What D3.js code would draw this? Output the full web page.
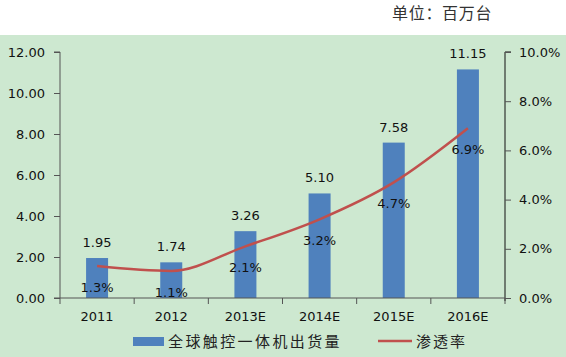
<!DOCTYPE html>
<html><head><meta charset="utf-8">
<script src="https://cdn.jsdelivr.net/npm/d3@7"></script>
<style>body{margin:0;background:#fff}svg{display:block}</style>
</head><body>
<script>
const categories = ["2011","2012","2013E","2014E","2015E","2016E"];
const shipments = [1.95,1.74,3.26,5.10,7.58,11.15];
const penetration = [0.013,0.011,0.021,0.032,0.047,0.069];
const leftTicks = [0,2,4,6,8,10,12];
const rightTicks = [0,0.02,0.04,0.06,0.08,0.10];
const seriesNames = ["全球触控一体机出货量","渗透率"];
const unitLabel = "单位：百万台";

const W=566,H=357;
const svg=d3.select("body").append("svg").attr("width",W).attr("height",H);
svg.append("rect").attr("x",0).attr("y",35).attr("width",W).attr("height",H-35).attr("fill","#CDE8D0");
svg.append("text").attr("x",392).attr("y",19)
  .attr("font-family","Noto Sans CJK SC").attr("font-size",16).attr("letter-spacing",0.7).attr("fill","#333").text(unitLabel);

const L=60,R=505,T=52,B=298;
const xb=d3.scaleBand().domain(categories).range([L,R]);
const y=d3.scaleLinear().domain([0,12]).range([B,T]);
const y2=d3.scaleLinear().domain([0,0.10]).range([B,T]);
const font="DejaVu Sans";
const cx=i=>xb(categories[i])+xb.bandwidth()/2;

// bars
svg.selectAll(".bar").data(shipments).enter().append("rect")
  .attr("x",(d,i)=>cx(i)-11).attr("width",22)
  .attr("y",d=>y(d)).attr("height",d=>B-y(d)).attr("fill","#4F81BD");
svg.selectAll(".bl").data(shipments).enter().append("text")
  .attr("x",(d,i)=>cx(i)).attr("y",d=>y(d)-11)
  .attr("text-anchor","middle").attr("font-family",font).attr("font-size",13).attr("fill","#111")
  .text(d=>d.toFixed(2));

// line
const line=d3.line().x((d,i)=>cx(i)).y(d=>y2(d)).curve(d3.curveMonotoneX);
svg.append("path").datum(penetration).attr("d",line).attr("fill","none").attr("stroke","#C0504D").attr("stroke-width",2.5);
svg.selectAll(".pl").data(penetration).enter().append("text")
  .attr("x",(d,i)=>cx(i)).attr("y",d=>y2(d)+26)
  .attr("text-anchor","middle").attr("font-family",font).attr("font-size",13).attr("fill","#111")
  .text(d=>(d*100).toFixed(1)+"%");

// axes
const gl=svg.append("g").attr("transform",`translate(${L},0)`)
  .call(d3.axisLeft(y).tickValues(leftTicks).tickSize(6).tickPadding(9).tickFormat(d=>d.toFixed(2)));
const gr=svg.append("g").attr("transform",`translate(${R},0)`)
  .call(d3.axisRight(y2).tickValues(rightTicks).tickSize(6).tickPadding(8).tickFormat(d=>(d*100).toFixed(1)+"%"));
const gx=svg.append("g").attr("transform",`translate(0,${B})`)
  .call(d3.axisBottom(xb).tickSize(0).tickPadding(14));
gx.selectAll(".xt").data(d3.range(categories.length+1)).enter().append("line")
  .attr("x1",i=>L+i*xb.step()).attr("x2",i=>L+i*xb.step()).attr("y1",0).attr("y2",6).attr("stroke","#555");
[gl,gr,gx].forEach(g=>{
  g.selectAll("path").attr("stroke","#555");
  g.selectAll(".tick line").attr("stroke","#555");
  g.selectAll("text").attr("font-family",font).attr("font-size",13).attr("fill","#111");
});
gl.select("path").attr("d",`M-6,${T}H0V${B}H-6`);
gr.select("path").attr("d",`M6,${T}H0V${B+3}`).attr("stroke","#111");
gx.select("path").attr("d",`M${L},0H${R}`);

// legend
const lg=svg.append("g");
lg.append("rect").attr("x",133).attr("y",337).attr("width",31).attr("height",9).attr("fill","#4F81BD");
lg.append("text").attr("x",168).attr("y",347).attr("font-family","Noto Sans CJK SC").attr("font-size",15).attr("letter-spacing",2.4).attr("fill","#222").text(seriesNames[0]);
lg.append("line").attr("x1",378).attr("x2",412).attr("y1",341).attr("y2",341).attr("stroke","#C0504D").attr("stroke-width",2.5);
lg.append("text").attr("x",416).attr("y",347).attr("font-family","Noto Sans CJK SC").attr("font-size",15).attr("letter-spacing",2).attr("fill","#222").text(seriesNames[1]);
</script>
</body></html>
